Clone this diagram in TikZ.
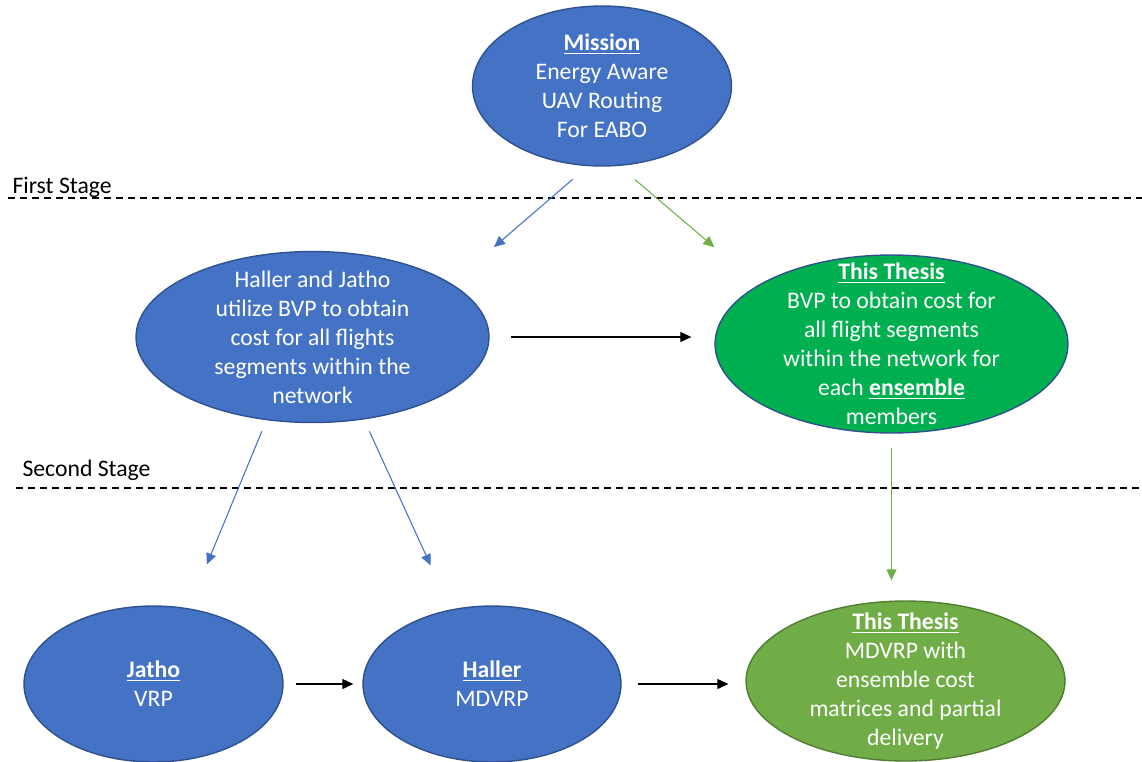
\documentclass[tikz,border=0pt]{standalone}
\usepackage{fontspec}
\setmainfont{Carlito}
\usepackage{tikz}
\usetikzlibrary{arrows.meta,shapes.geometric}

\definecolor{nodeblue}{HTML}{4472C4}
\definecolor{rimblue}{HTML}{2F528F}
\definecolor{thesisgreen}{HTML}{00B050}
\definecolor{leafgreen}{HTML}{70AD47}
\definecolor{rimgreen}{HTML}{507E32}

\newcommand{\heading}[1]{\underline{\textbf{#1}}}

\begin{document}
\begin{tikzpicture}[x=0.02cm,y=-0.02cm,->,>={Triangle[length=0.22cm,width=0.2cm]},line width=0.6pt,
  every node/.style={font=\fontsize{13.5}{16.5}\selectfont},
  blob/.style={ellipse,draw=rimblue,fill=nodeblue,text=white,align=center,
    inner xsep=0pt,inner ysep=-0.5cm,line width=0.8pt},
  bluearrow/.style={draw=nodeblue},
  greenarrow/.style={draw=leafgreen},
  stageline/.style={-,dash pattern=on 0.14cm off 0.1cm,line width=1.1pt},
  stagelabel/.style={anchor=base west,inner sep=0pt}]
 \useasboundingbox (0,0) rectangle (1142,761);

 % stages
 \draw[stageline] (8,198) -- (1142,198);
 \draw[stageline] (16,488) -- (1142,488);
 \node[stagelabel] (first)  at (12,193) {First Stage};
 \node[stagelabel] (second) at (22,476) {Second Stage};

 \node[blob,minimum width=5.18cm,minimum height=3.2cm] (mission) at (602,86)
   {\heading{Mission}\\Energy Aware\\UAV Routing\\For EABO};
 \node[blob,minimum width=7.06cm,minimum height=3.42cm] (hj) at (312.5,337)
   {Haller and Jatho\\utilize BVP to obtain\\cost for all flights\\segments within the\\network};
 \node[blob,fill=thesisgreen,minimum width=7.06cm,minimum height=3.56cm] (thesisA) at (891.5,344)
   {\heading{This Thesis}\\BVP to obtain cost for\\all flight segments\\within the network for\\each \heading{ensemble}\\members};
 \node[blob,minimum width=5.18cm,minimum height=3.12cm] (jatho) at (153.5,684)
   {\heading{Jatho}\\VRP};
 \node[blob,minimum width=5.16cm,minimum height=3.12cm] (haller) at (492,684)
   {\heading{Haller}\\MDVRP};
 \node[blob,draw=rimgreen,fill=leafgreen,minimum width=6.38cm,minimum height=3.2cm] (thesisB) at (905.5,681)
   {\heading{This Thesis}\\MDVRP with\\ensemble cost\\matrices and partial\\delivery};

 \path (mission.260) edge[bluearrow,shorten <=0.40cm,shorten >=1.12cm] (hj.21)
       (mission.282) edge[greenarrow,shorten <=0.42cm,shorten >=1.16cm] (thesisA.156)
       (hj.east)     edge[shorten <=0.42cm,shorten >=0.46cm] (hj.east -| thesisA.west)
       (hj.241)      edge[bluearrow,shorten <=0.24cm,shorten >=0.95cm] (jatho.65)
       (hj.302)      edge[bluearrow,shorten <=0.26cm,shorten >=0.97cm] (haller.119)
       (thesisA.south) edge[greenarrow,shorten <=0.28cm,shorten >=0.40cm] (thesisA.south |- thesisB.north)
       (jatho.east)  edge[shorten <=0.24cm,shorten >=0.18cm] (haller.west)
       (haller.east) edge[shorten <=0.32cm,shorten >=0.34cm] (haller.east -| thesisB.west);
\end{tikzpicture}
\end{document}
